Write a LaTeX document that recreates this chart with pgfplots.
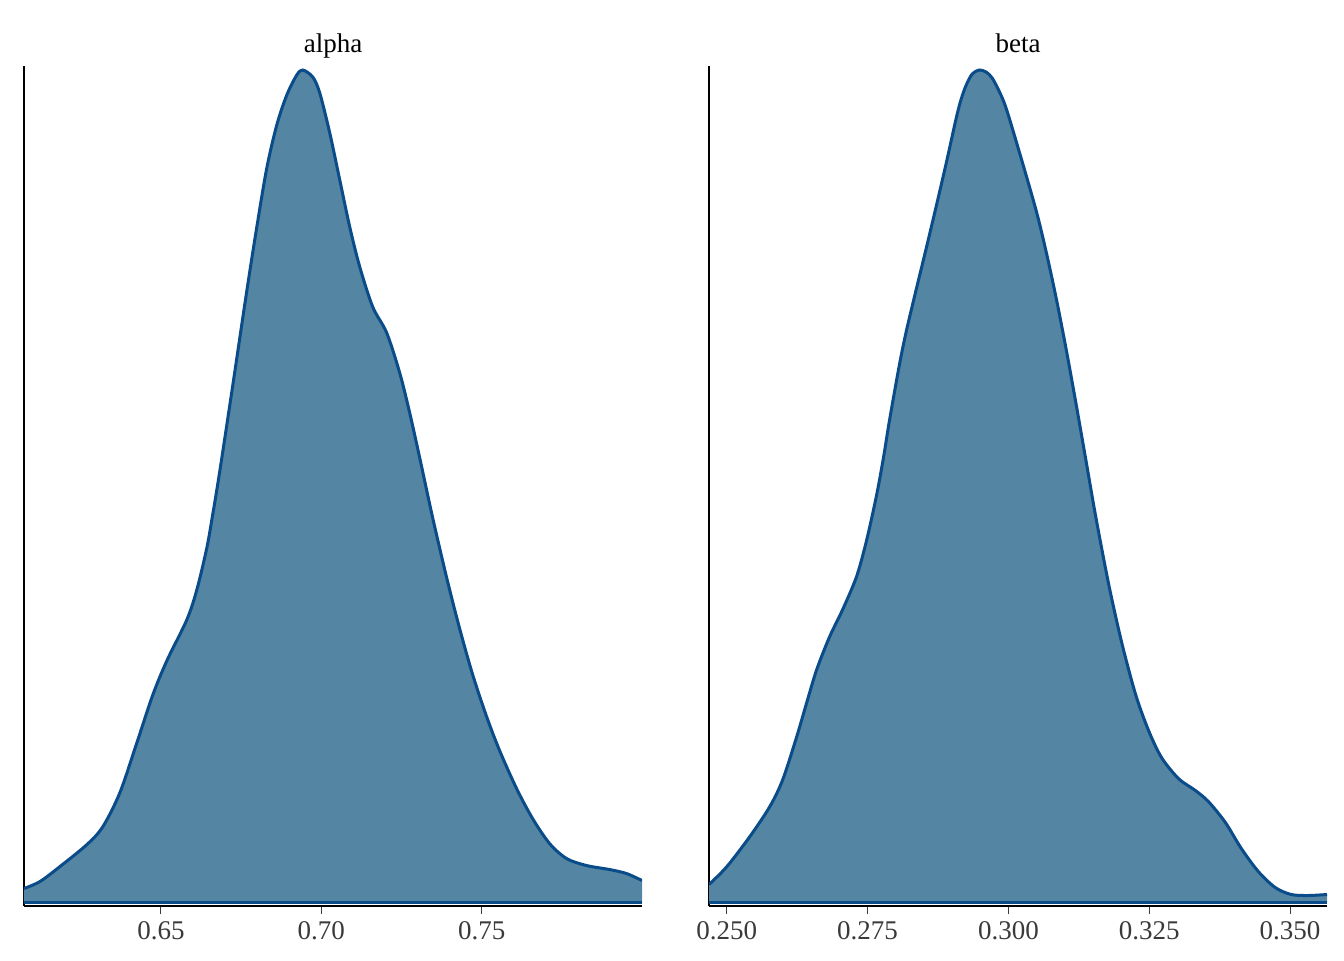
\documentclass[border=0pt]{standalone}
\usepackage{pgfplots}
\usepackage{pgfplotstable}
\pgfplotsset{compat=1.18}
\usepackage{fontspec}
\setmainfont{Liberation Serif}
\definecolor{densfill}{HTML}{5485A2}
\definecolor{densline}{HTML}{0A4C89}
\definecolor{ticklab}{HTML}{3A3A3A}

\pgfplotstableread{
x y
0.60735 14
0.61233 21
0.61856 36
0.62696 58
0.63194 76
0.63724 110
0.64253 160
0.64751 208
0.65187 242
0.65809 283
0.66121 313
0.66432 355
0.66619 389
0.66837 432
0.67242 518
0.67677 612
0.67989 676
0.68300 735
0.68611 778
0.68923 808
0.69234 828
0.69421 833
0.69732 826
0.69950 810
0.70262 770
0.70573 723
0.70884 676
0.71196 636
0.71600 596
0.72036 570
0.72441 530
0.72752 490
0.73064 445
0.73468 385
0.73904 325
0.74309 274
0.74714 228
0.75149 186
0.75554 152
0.76083 114
0.76582 84
0.77111 59
0.77640 44
0.78263 37
0.78979 33
0.79508 29
0.7999 22
}\alphatab

\pgfplotstableread{
x y
0.24687 18
0.25005 36
0.25412 66
0.25766 96
0.25996 123
0.26244 166
0.26421 200
0.26598 233
0.26828 266
0.27058 293
0.27305 326
0.27482 362
0.27659 407
0.27783 445
0.27889 482
0.28066 538
0.28190 572
0.28367 614
0.28544 655
0.28721 697
0.28898 740
0.29075 785
0.29163 804
0.29252 818
0.29358 829
0.29482 833
0.29605 831
0.29712 825
0.29835 812
0.29959 795
0.30189 752
0.30490 693
0.30667 652
0.30844 606
0.31021 555
0.31198 500
0.31375 443
0.31551 386
0.31782 318
0.32012 260
0.32259 208
0.32489 172
0.32719 145
0.33020 124
0.33321 112
0.33551 101
0.33852 80
0.34135 54
0.34436 31
0.34736 15
0.35020 8
0.35320 7
0.35655 8
}\betatab

\pgfplotsset{
  dens/.style={
    scale only axis, width=309pt, height=420pt,
    ymin=-3.5, ymax=837,
    axis x line*=bottom, axis y line*=left,
    axis line style={-, black, line width=1pt},
    ytick=\empty,
    tick align=outside,
    major tick length=4pt,
    xtick style={ticklab, line width=0.6pt},
    xticklabel style={font=\fontsize{13.5}{16}\selectfont, text=ticklab},
    every axis title/.style={at={(0.5,1)}, anchor=base, yshift=7pt, font=\fontsize{13.5}{16}\selectfont},
  }
}

\begin{document}
\begin{tikzpicture}
\useasboundingbox (-12pt,-27pt) rectangle (660pt,453pt);
\begin{axis}[dens, at={(0pt,0pt)}, anchor=south west,
  title={alpha},
  xmin=0.60735, xmax=0.7999,
  xtick={0.65,0.70,0.75}, xticklabels={0.65,0.70,0.75}]
\addplot[fill=densfill, draw=none, smooth, tension=0.5] table[x=x,y=y] {\alphatab} \closedcycle;
\addplot[densline, line width=1.5pt] coordinates {(0.60735,0) (0.7999,0)};
\addplot[densline, line width=1.5pt, smooth, tension=0.5] table[x=x,y=y] {\alphatab};
\end{axis}
\begin{axis}[dens, at={(342.5pt,0pt)}, anchor=south west,
  title={beta},
  xmin=0.24687, xmax=0.35655,
  xtick={0.25,0.275,0.3,0.325,0.35}, xticklabels={0.250,0.275,0.300,0.325,0.350}]
\addplot[fill=densfill, draw=none, smooth, tension=0.5] table[x=x,y=y] {\betatab} \closedcycle;
\addplot[densline, line width=1.5pt] coordinates {(0.24687,0) (0.35655,0)};
\addplot[densline, line width=1.5pt, smooth, tension=0.5] table[x=x,y=y] {\betatab};
\end{axis}
\end{tikzpicture}
\end{document}
